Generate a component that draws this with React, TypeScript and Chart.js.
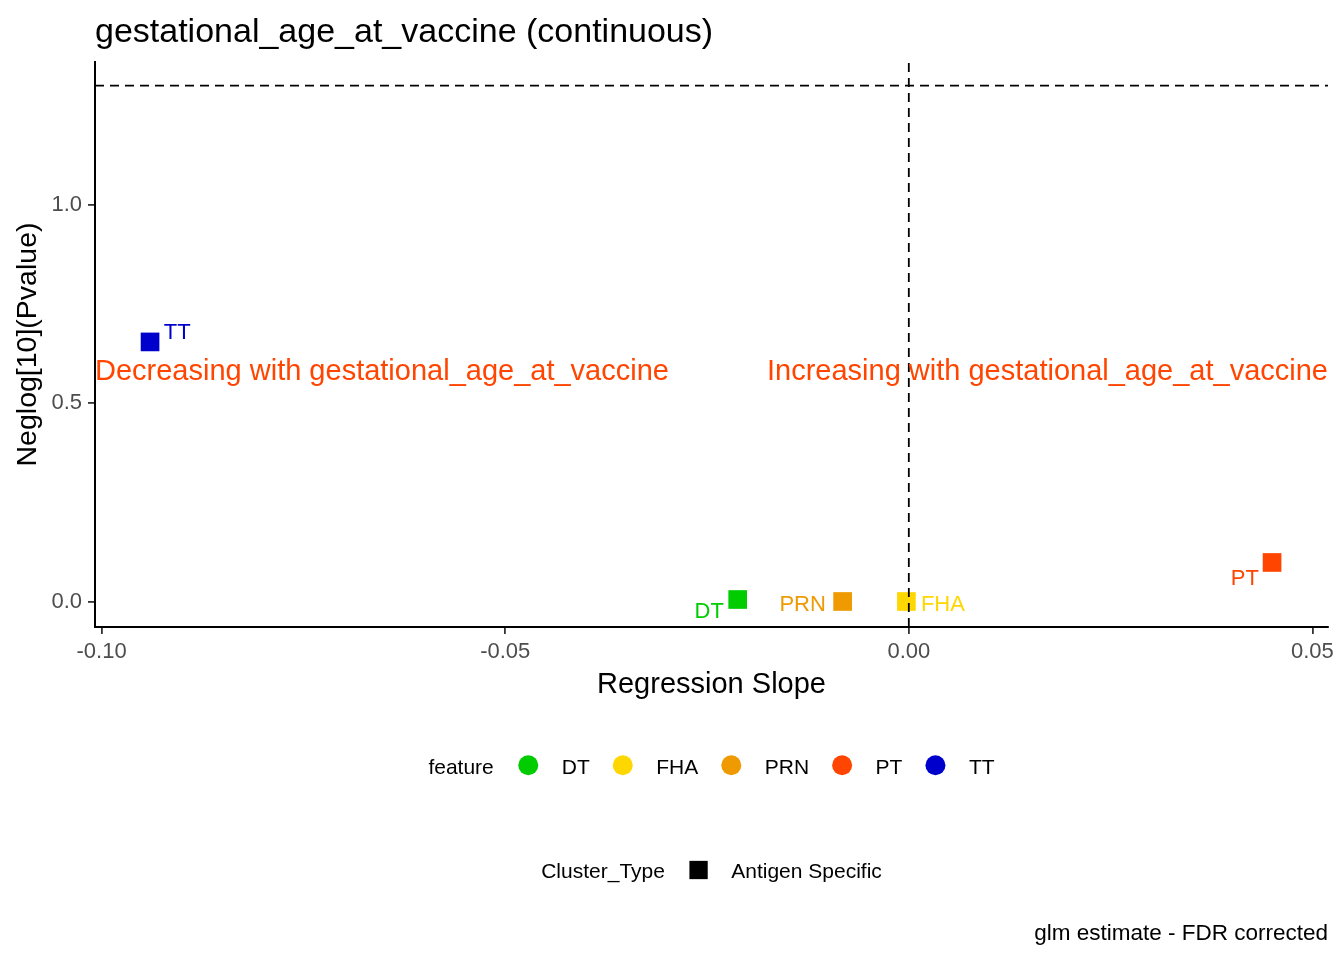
import React, { useEffect, useRef } from 'react';
import { Chart, registerables } from 'chart.js';

Chart.register(...registerables);

// data
const features = ['DT', 'FHA', 'PRN', 'PT', 'TT'];
const featureColors = ['#00CC00', '#FFD700', '#EE9A00', '#FF4500', '#0000CD'];
const slopes = [-0.0212, -0.0003, -0.0082, 0.045, -0.094];
const negLogP = [0.0055, 0.0005, 0.0005, 0.0989, 0.655];
const clusterTypes = ['Antigen Specific'];
const xTicks = [-0.1, -0.05, 0, 0.05];
const yTicks = [0, 0.5, 1.0];
const xRange = [-0.10082, 0.05193];
const yRange = [-0.0638, 1.3608];
const fdrCutoff = 1.30103; // -log10(0.05)
const annotationY = 0.58;

const TITLE = 'gestational_age_at_vaccine (continuous)';
const CAPTION = 'glm estimate - FDR corrected';
const FAMILY = "'Liberation Sans', Arial, sans-serif";

// pixel nudges for the repelled point labels
const labelNudge: Record<string, [number, number]> = {
  DT: [-28.5, 18.5],
  FHA: [36.5, 9.5],
  PRN: [-40, 9.5],
  PT: [-27.3, 22.5],
  TT: [27.2, -3],
};

const font = (size: number) => `${size}px ${FAMILY}`;

function drawLegendRow(
  ctx: CanvasRenderingContext2D,
  cx: number,
  baseline: number,
  keyY: number,
  title: string,
  labels: string[],
  colors: string[],
  shape: 'circle' | 'square',
) {
  const keyW = shape === 'circle' ? 20 : 18.3;
  const gapTitle = 24.5;
  const gapKey = 23.5;
  const gapItem = 23;
  ctx.font = font(21);
  const titleW = ctx.measureText(title).width;
  const labelW = labels.map((l) => ctx.measureText(l).width);
  const total =
    titleW + gapTitle + labels.length * (keyW + gapKey) +
    labelW.reduce((a, b) => a + b, 0) + (labels.length - 1) * gapItem;
  let x = cx - total / 2;
  ctx.fillStyle = '#000000';
  ctx.textAlign = 'left';
  ctx.textBaseline = 'alphabetic';
  ctx.fillText(title, x, baseline);
  x += titleW + gapTitle;
  labels.forEach((l, i) => {
    ctx.fillStyle = colors[i];
    if (shape === 'circle') {
      ctx.beginPath();
      ctx.arc(x + keyW / 2, keyY, keyW / 2, 0, Math.PI * 2);
      ctx.fill();
    } else {
      ctx.fillRect(x, keyY - keyW / 2, keyW, keyW);
    }
    x += keyW + gapKey;
    ctx.fillStyle = '#000000';
    ctx.fillText(l, x, baseline);
    x += labelW[i] + gapItem;
  });
}

const textPlugin = {
  id: 'volcanoText',
  afterDraw(chart: any) {
    const { ctx, chartArea, scales } = chart;
    ctx.save();

    // title and caption
    ctx.fillStyle = '#000000';
    ctx.font = font(34);
    ctx.textAlign = 'left';
    ctx.textBaseline = 'alphabetic';
    ctx.fillText(TITLE, chartArea.left, chartArea.top - 20.3);
    ctx.font = font(22.5);
    ctx.textAlign = 'right';
    ctx.fillText(CAPTION, chartArea.right, chart.height - 20);

    // direction annotations
    const ay = scales.y.getPixelForValue(annotationY);
    ctx.font = font(29);
    ctx.fillStyle = '#FF4500';
    ctx.textBaseline = 'middle';
    ctx.textAlign = 'left';
    ctx.fillText('Decreasing with gestational_age_at_vaccine', chartArea.left, ay);
    ctx.textAlign = 'right';
    ctx.fillText('Increasing with gestational_age_at_vaccine', chartArea.right, ay);

    // point labels
    ctx.font = font(22);
    ctx.textAlign = 'center';
    ctx.textBaseline = 'alphabetic';
    features.forEach((f, i) => {
      const px = scales.x.getPixelForValue(slopes[i]);
      const py = scales.y.getPixelForValue(negLogP[i]);
      const [dx, dy] = labelNudge[f];
      ctx.fillStyle = featureColors[i];
      ctx.fillText(f, px + dx, py + dy);
    });

    // legends
    const cx = (chartArea.left + chartArea.right) / 2;
    drawLegendRow(ctx, cx, chartArea.bottom + 146.7, chartArea.bottom + 138.3, 'feature', features, featureColors, 'circle');
    drawLegendRow(ctx, cx, chartArea.bottom + 251.3, chartArea.bottom + 243, 'Cluster_Type', clusterTypes, ['#000000'], 'square');

    ctx.restore();
  },
};

export default function App() {
  const canvasRef = useRef<HTMLCanvasElement>(null);

  useEffect(() => {
    document.body.style.margin = '0';
    if (!canvasRef.current) return;

    Chart.defaults.font.family = FAMILY;

    const pointSets = features.map((f, i) => ({
      type: 'scatter' as const,
      label: f,
      data: [{ x: slopes[i], y: negLogP[i] }],
      pointStyle: 'rect',
      pointRadius: 13.2,
      pointHoverRadius: 13.2,
      backgroundColor: featureColors[i],
      borderColor: featureColors[i],
      borderWidth: 0,
      order: 2,
    }));

    const refLine = (data: { x: number; y: number }[]) => ({
      type: 'line' as const,
      label: '',
      data,
      borderColor: '#000000',
      borderWidth: 1.8,
      borderDash: [9, 6],
      pointRadius: 0,
      fill: false,
      order: 0,
    });

    const chart = new Chart(canvasRef.current, {
      type: 'scatter',
      data: {
        datasets: [
          ...pointSets,
          refLine([{ x: xRange[0], y: fdrCutoff }, { x: xRange[1], y: fdrCutoff }]),
          refLine([{ x: 0, y: yRange[0] }, { x: 0, y: yRange[1] }]),
        ] as any,
      },
      options: {
        responsive: false,
        animation: false,
        layout: { padding: { left: 0, top: 62, right: 16, bottom: 253 } },
        plugins: {
          legend: { display: false },
          tooltip: { enabled: false },
          title: { display: false },
        },
        scales: {
          x: {
            type: 'linear',
            min: xRange[0],
            max: xRange[1],
            afterBuildTicks: (s: any) => {
              s.ticks = xTicks.map((v) => ({ value: v }));
            },
            afterFit: (s: any) => {
              s.height = 80;
            },
            ticks: {
              callback: (v: any) => Number(v).toFixed(2),
              font: { size: 22 },
              color: '#4D4D4D',
              padding: 5,
              maxRotation: 0,
              autoSkip: false,
            },
            grid: {
              display: true,
              drawOnChartArea: false,
              drawTicks: true,
              tickLength: 7,
              color: '#333333',
              lineWidth: 1.8,
            },
            border: { display: true, color: '#000000', width: 2 },
            title: {
              display: true,
              text: 'Regression Slope',
              color: '#000000',
              font: { size: 29 },
              padding: { top: 0, bottom: 5 },
            },
          },
          y: {
            type: 'linear',
            min: yRange[0],
            max: yRange[1],
            afterBuildTicks: (s: any) => {
              s.ticks = yTicks.map((v) => ({ value: v }));
            },
            afterFit: (s: any) => {
              s.width = 95;
            },
            ticks: {
              callback: (v: any) => Number(v).toFixed(1),
              font: { size: 22 },
              color: '#4D4D4D',
              padding: 6,
              autoSkip: false,
            },
            grid: {
              display: true,
              drawOnChartArea: false,
              drawTicks: true,
              tickLength: 7,
              color: '#333333',
              lineWidth: 1.8,
            },
            border: { display: true, color: '#000000', width: 2 },
            title: {
              display: true,
              text: 'Neglog[10](Pvalue)',
              color: '#000000',
              font: { size: 28.5 },
              padding: { top: 11, bottom: 0 },
            },
          },
        },
      },
      plugins: [textPlugin],
    });

    return () => {
      chart.destroy();
    };
  }, []);

  return (
    <div style={{ width: 1344, height: 960, background: '#FFFFFF' }}>
      <canvas ref={canvasRef} width={1344} height={960} style={{ display: 'block' }} />
    </div>
  );
}
